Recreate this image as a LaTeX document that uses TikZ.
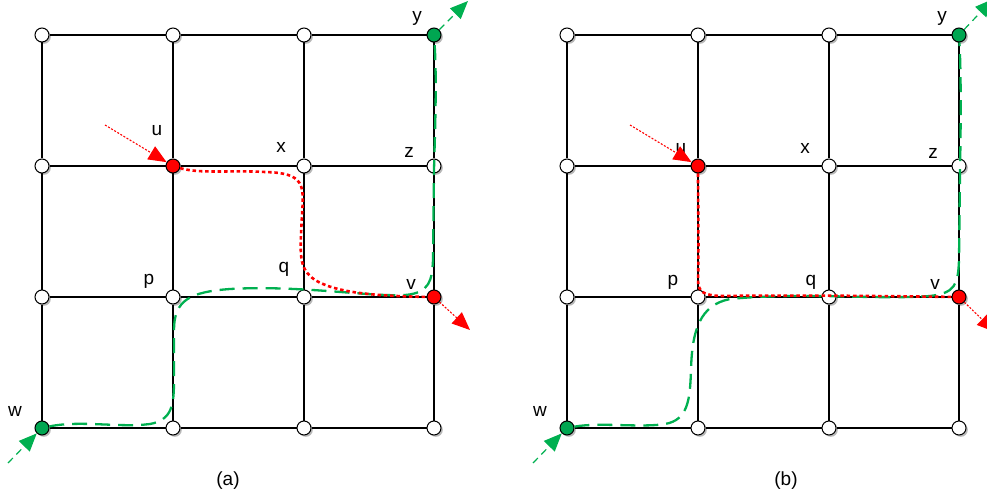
\documentclass[tikz,border=0pt]{standalone}
\usepackage{fontspec}
\setmainfont{Liberation Sans}
\usetikzlibrary{arrows.meta,shadows}
\definecolor{vgreen}{RGB}{0,166,81}
\definecolor{pgreen}{RGB}{0,176,80}
\definecolor{vred}{RGB}{255,0,0}
\begin{document}
\begin{tikzpicture}[x=1pt,y=-1pt,
  vtx/.style={circle,draw=black,fill=white,line width=1pt,minimum size=14pt,inner sep=0pt,
    drop shadow={shadow xshift=1.8pt,shadow yshift=-1.8pt,fill=black!35,opacity=0.8}},
  vs22/.style={fill=vred},
  vs43/.style={fill=vred},
  vs41/.style={fill=vgreen},
  vs14/.style={fill=vgreen},
  gl/.style={draw=black,line width=1.2pt},
  lbl/.style={font=\fontsize{19}{22}\selectfont,inner sep=0pt},
  redpath/.style={draw=vred,line width=2.6pt,dash pattern=on 3.5pt off 2.8pt},
  greenpath/.style={draw=pgreen,line width=2.3pt,dash pattern=on 15pt off 8pt},
  redarrow/.style={draw=vred,line width=1.1pt,dash pattern=on 2pt off 1.6pt,-{Triangle[length=18pt,width=15pt,fill=vred]}},
  greenarrow/.style={draw=pgreen,line width=1.2pt,dash pattern=on 7pt off 5pt,-{Triangle[length=18pt,width=15pt,fill=pgreen]}},
]
\useasboundingbox (0,0) rectangle (987,494);
\foreach \p/\o in {a/0,b/525}{
  \foreach \i/\x in {1/42,2/173,3/304,4/434}{
    \foreach \j/\y in {1/35,2/166,3/297,4/428}{
      \node[vtx,vs\i\j/.try] (\p\i\j) at (\x+\o,\y) {};
    }
  }
  \foreach \j in {1,...,4}{
    \foreach \i/\k in {1/2,2/3,3/4}{
      \draw[gl] (\p\i\j) -- (\p\k\j);
      \draw[gl] (\p\j\i) -- (\p\j\k);
    }
  }
}
% labels (a)
\node[lbl] (ly) at (417,18) {y};
\node[lbl] (lu) at (157,131) {u};
\node[lbl] (lx) at (281,147) {x};
\node[lbl] (lz) at (409,152) {z};
\node[lbl] (lp) at (149,281) {p};
\node[lbl] (lq) at (284,269) {q};
\node[lbl] (lv) at (411,284) {v};
\node[lbl] (lw) at (15,411) {w};
\node[lbl] (capa) at (228,481) {(a)};
% labels (b)
\node[lbl] (mly) at (942,18) {y};
\node[lbl] (mlu) at (681,149) {u};
\node[lbl] (mlx) at (805,148) {x};
\node[lbl] (mlz) at (933,153) {z};
\node[lbl] (mlp) at (673,282) {p};
\node[lbl] (mlq) at (811,282) {q};
\node[lbl] (mlv) at (935,284) {v};
\node[lbl] (mlw) at (540,411) {w};
\node[lbl] (capb) at (786,481) {(b)};
% arrow ends
\coordinate (ra1) at (105,125);
\coordinate (ra2) at (470,330);
\coordinate (ga1) at (8,463);
\coordinate (ga2) at (468,1);
\coordinate (rb1) at (630,125);
\coordinate (rb2) at (995,332);
\coordinate (gb1) at (533,463);
\coordinate (gb2) at (993,-1);
% paths (a)
\draw[greenpath] (a14) .. controls (80,420) and (120,428) .. (150,424)
  .. controls (172,420) and (174,405) .. (174,380) -- (174,330)
  .. controls (174,300) and (190,292) .. (230,289)
  .. controls (300,285) and (370,297) .. (405,295)
  .. controls (430,293) and (432,280) .. (433,260) -- (434,170)
  .. controls (435,130) and (437,80) .. (a41);
\draw[redpath] (a22) .. controls (200,174) and (230,170) .. (265,172)
  .. controls (305,173) and (304,185) .. (302,215)
  .. controls (300,255) and (298,268) .. (315,280)
  .. controls (335,292) and (370,296) .. (a43);
% paths (b)
\draw[greenpath] (b14) .. controls (600,422) and (640,428) .. (665,424)
  .. controls (688,420) and (690,400) .. (691,370)
  .. controls (692,330) and (700,305) .. (730,299)
  .. controls (800,292) and (880,300) .. (930,296)
  .. controls (955,293) and (958,285) .. (959,260) -- (960,170)
  .. controls (961,120) and (961,70) .. (b41);
\draw[redpath] (b22) .. controls (698,200) and (699,250) .. (698,280)
  .. controls (698,293) and (705,295) .. (720,296)
  .. controls (800,295) and (880,296) .. (b43);
% arrows
\draw[redarrow] (ra1) -- (a22);
\draw[redarrow] (a43) -- (ra2);
\draw[greenarrow] (ga1) -- (a14);
\draw[greenarrow] (a41) -- (ga2);
\draw[redarrow] (rb1) -- (b22);
\draw[redarrow] (b43) -- (rb2);
\draw[greenarrow] (gb1) -- (b14);
\draw[greenarrow] (b41) -- (gb2);
\end{tikzpicture}
\end{document}
